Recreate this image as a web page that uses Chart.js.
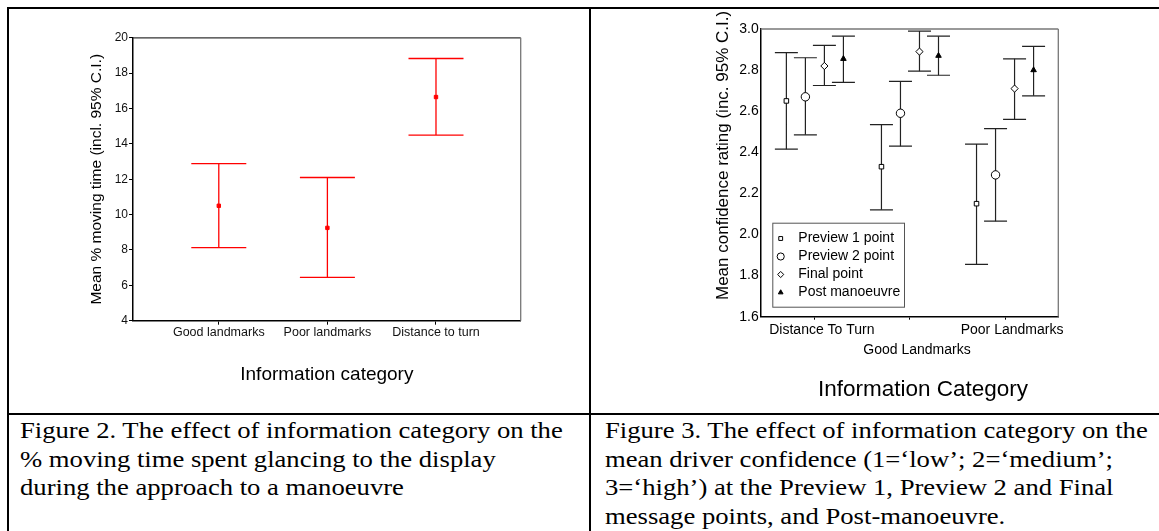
<!DOCTYPE html>
<html>
<head>
<meta charset="utf-8">
<script src="https://cdn.jsdelivr.net/npm/chart.js@4.4.1/dist/chart.umd.min.js"></script>
<style>
html, body { margin: 0; padding: 0; background: #fff; }
body { width: 1159px; height: 531px; position: relative; overflow: hidden; }
.rule { position: absolute; background: #000; }
.chartbox { position: absolute; }
.caption {
    position: absolute;
    font-family: "Liberation Serif", "Times New Roman", serif;
    font-size: 24px;
    line-height: 28.5px;
    color: #000;
    white-space: nowrap;
    transform: scaleX(1.11);
    transform-origin: 0 0;
}
</style>
</head>
<body>
<div class="rule" style="left:7px;top:7px;width:1152px;height:2px"></div>
<div class="rule" style="left:7px;top:7px;width:2px;height:524px"></div>
<div class="rule" style="left:589px;top:7px;width:2px;height:524px"></div>
<div class="rule" style="left:7px;top:413px;width:1152px;height:2px"></div>

<div class="chartbox" style="left:9px;top:9px;width:580px;height:404px"><canvas id="movingChart"></canvas></div>
<div class="chartbox" style="left:591px;top:9px;width:568px;height:404px"><canvas id="confidenceChart"></canvas></div>

<div class="caption" style="left:20px;top:416px">Figure 2. The effect of information category on the<br>% moving time spent glancing to the display<br>during the approach to a manoeuvre</div>
<div class="caption" style="left:605px;top:416px">Figure 3. The effect of information category on the<br>mean driver confidence (1=‘low’; 2=‘medium’;<br>3=‘high’) at the Preview 1, Preview 2 and Final<br>message points, and Post-manoeuvre.</div>

<script>
// ---- Figure 2 data ----
const moveCats = ["Good landmarks", "Poor landmarks", "Distance to turn"];
const movePos = [1, 2, 3];
const moveMean = [10.5, 9.25, 16.65];
const moveLow = [8.13, 6.45, 14.5];
const moveHigh = [12.88, 12.1, 18.83];
const moveTicks = [4, 6, 8, 10, 12, 14, 16, 18, 20];

// ---- Figure 3 data ----
const confGroups = ["Distance To Turn", "Good Landmarks", "Poor Landmarks"];
const confPos = [1, 2, 3];
const confTicks = [1.6, 1.8, 2.0, 2.2, 2.4, 2.6, 2.8, 3.0];
const seriesNames = ["Preview 1 point", "Preview 2 point", "Final point", "Post manoeuvre"];
const seriesShift = [-0.3, -0.1, 0.1, 0.3];
const prev1Mean = [2.65, 2.33, 2.15];
const prev1Low = [2.415, 2.12, 1.855];
const prev1High = [2.885, 2.535, 2.44];
const prev2Mean = [2.67, 2.59, 2.29];
const prev2Low = [2.485, 2.43, 2.065];
const prev2High = [2.86, 2.745, 2.515];
const finalMean = [2.82, 2.89, 2.71];
const finalLow = [2.725, 2.795, 2.56];
const finalHigh = [2.92, 2.99, 2.855];
const postMean = [2.855, 2.87, 2.80];
const postLow = [2.74, 2.775, 2.675];
const postHigh = [2.965, 2.965, 2.915];

const sansFont = "'Liberation Sans', Arial, Helvetica, sans-serif";
Chart.defaults.font.family = sansFont;
Chart.defaults.color = "#000";

// error bar helpers: whisker segments (gaps between) and cap points
function whiskerPoints(xs, lo, hi) {
    const pts = [];
    xs.forEach((x, i) => { pts.push({x: x, y: lo[i]}, {x: x, y: hi[i]}, {x: x, y: null}); });
    return pts;
}
function capPoints(xs, lo, hi) {
    const pts = [];
    xs.forEach((x, i) => { pts.push({x: x, y: lo[i]}, {x: x, y: hi[i]}); });
    return pts;
}

// top + right edges of the plot box
const plotFrame = {
    id: "plotFrame",
    beforeDatasetsDraw(chart, args, opts) {
        const ctx = chart.ctx, a = chart.chartArea;
        ctx.save();
        ctx.lineWidth = 1.3;
        ctx.strokeStyle = opts.top;
        ctx.beginPath(); ctx.moveTo(a.left, a.top); ctx.lineTo(a.right, a.top); ctx.stroke();
        ctx.strokeStyle = opts.right;
        ctx.beginPath(); ctx.moveTo(a.right, a.top); ctx.lineTo(a.right, a.bottom); ctx.stroke();
        ctx.restore();
    }
};

// ---- Figure 2: % moving time ----
new Chart(document.getElementById("movingChart"), {
    type: "scatter",
    data: {
        datasets: [
            {
                data: movePos.map((x, i) => ({x: x, y: moveMean[i]})),
                pointStyle: "rect",
                pointRadius: 2.4,
                backgroundColor: "#ff0000",
                borderColor: "#ff0000",
                borderWidth: 1
            },
            {
                data: capPoints(movePos, moveLow, moveHigh),
                pointStyle: "line",
                pointRadius: 27.5,
                borderColor: "#ff0000",
                borderWidth: 1.3
            },
            {
                type: "line",
                data: whiskerPoints(movePos, moveLow, moveHigh),
                borderColor: "#ff0000",
                borderWidth: 1.3,
                pointRadius: 0,
                fill: false
            }
        ]
    },
    options: {
        animation: false,
        responsive: true,
        maintainAspectRatio: false,
        events: [],
        layout: { padding: { left: 0, right: 68.3, top: 19.3, bottom: 0 } },
        plugins: {
            legend: { display: false },
            tooltip: { enabled: false },
            plotFrame: { top: "#333", right: "#777" }
        },
        scales: {
            x: {
                type: "linear",
                min: 0.21,
                max: 3.78,
                afterBuildTicks: s => { s.ticks = movePos.map(v => ({value: v})); },
                afterFit: s => { s.height = 92.3; },
                ticks: {
                    callback: (v, i) => moveCats[i],
                    autoSkip: false, maxRotation: 0, padding: 0,
                    font: { size: 12.5 }, color: "#111"
                },
                grid: { drawOnChartArea: false, drawTicks: true, tickLength: 4, color: "#000" },
                border: { color: "#000", width: 1.5 },
                title: {
                    display: true, text: "Information category",
                    font: { size: 19 }, color: "#000",
                    padding: { top: 0, bottom: 26.6 }
                }
            },
            y: {
                min: 4,
                max: 20,
                afterBuildTicks: s => { s.ticks = moveTicks.map(v => ({value: v})); },
                afterFit: s => { s.width = 124; },
                ticks: { padding: 1, font: { size: 12 }, color: "#111" },
                grid: { drawOnChartArea: false, drawTicks: true, tickLength: 4, color: "#000" },
                border: { color: "#000", width: 1.5 },
                title: {
                    display: true, text: "Mean % moving time (incl. 95% C.I.)",
                    font: { size: 15.5 }, color: "#000",
                    padding: { top: 78.4, bottom: 0 }
                }
            }
        }
    },
    plugins: [plotFrame]
});

// ---- Figure 3: confidence rating ----
const confSeries = [
    { mean: prev1Mean, low: prev1Low, high: prev1High, style: "rect", r: 3.2, fill: "#fff" },
    { mean: prev2Mean, low: prev2Low, high: prev2High, style: "circle", r: 4.2, fill: "#fff" },
    { mean: finalMean, low: finalLow, high: finalHigh, style: "rectRot", r: 3.6, fill: "#fff" },
    { mean: postMean, low: postLow, high: postHigh, style: "triangle", r: 3.2, fill: "#000" }
];

const confDatasets = [];
confSeries.forEach((s, k) => {
    confDatasets.push({
        label: seriesNames[k],
        data: confPos.map((x, i) => ({x: x + seriesShift[k], y: s.mean[i]})),
        pointStyle: s.style,
        pointRadius: s.r,
        backgroundColor: s.fill,
        borderColor: "#000",
        borderWidth: 1,
        inLegend: true
    });
});
confSeries.forEach((s, k) => {
    const xs = confPos.map(x => x + seriesShift[k]);
    confDatasets.push({
        data: capPoints(xs, s.low, s.high),
        pointStyle: "line",
        pointRadius: 11.5,
        borderColor: "#222",
        borderWidth: 1.2
    });
    confDatasets.push({
        type: "line",
        data: whiskerPoints(xs, s.low, s.high),
        borderColor: "#222",
        borderWidth: 1.2,
        pointRadius: 0,
        fill: false
    });
});

// framed legend sitting in the lower-left of the plot
const boxLegend = {
    id: "boxLegend",
    afterDraw(chart, args, o) {
        const ctx = chart.ctx, a = chart.chartArea;
        const left = a.left + o.dx, top = a.bottom - o.dy - o.h;
        ctx.save();
        ctx.fillStyle = "#fff";
        ctx.fillRect(left, top, o.w, o.h);
        ctx.strokeStyle = "#555";
        ctx.lineWidth = 1;
        ctx.strokeRect(left + 0.5, top + 0.5, o.w, o.h);
        ctx.font = o.size + "px " + sansFont;
        ctx.textBaseline = "middle";
        ctx.textAlign = "left";
        let row = 0;
        chart.data.datasets.forEach(ds => {
            if (!ds.inLegend) return;
            const y = top + o.first + row * o.step;
            ctx.fillStyle = ds.backgroundColor;
            ctx.strokeStyle = ds.borderColor;
            ctx.lineWidth = ds.borderWidth;
            Chart.helpers.drawPoint(ctx, {
                pointStyle: ds.pointStyle, radius: ds.pointRadius * 0.85,
                rotation: 0, borderWidth: ds.borderWidth
            }, left + o.mx, y);
            ctx.fillStyle = "#000";
            ctx.fillText(ds.label, left + o.tx, y);
            row++;
        });
        ctx.restore();
    }
};

// axis titles placed the way the source figure has them
const freeTitles = {
    id: "freeTitles",
    afterDraw(chart, args, o) {
        const ctx = chart.ctx, a = chart.chartArea;
        ctx.save();
        ctx.fillStyle = "#000";
        ctx.font = o.ySize + "px " + sansFont;
        ctx.translate(a.left - o.yDx, a.bottom - o.yDy);
        ctx.rotate(-Math.PI / 2);
        ctx.textAlign = "left";
        ctx.textBaseline = "middle";
        ctx.fillText(o.yText, 0, 0);
        ctx.restore();

        ctx.save();
        ctx.fillStyle = "#000";
        ctx.font = o.xSize + "px " + sansFont;
        ctx.textAlign = "center";
        ctx.textBaseline = "middle";
        ctx.fillText(o.xText, (a.left + a.right) / 2 + o.xDx, a.bottom + o.xDy);
        ctx.restore();
    }
};

new Chart(document.getElementById("confidenceChart"), {
    type: "scatter",
    data: { datasets: confDatasets },
    options: {
        animation: false,
        responsive: true,
        maintainAspectRatio: false,
        events: [],
        layout: { padding: { left: 0, right: 100.7, top: 20, bottom: 0 } },
        plugins: {
            legend: { display: false },
            tooltip: { enabled: false },
            plotFrame: { top: "#777", right: "#777" },
            boxLegend: { dx: 11.6, dy: 10, w: 131.7, h: 84, first: 15.8, step: 18, mx: 8.4, tx: 26, size: 14 },
            freeTitles: {
                yText: "Mean confidence rating (inc. 95% C.I.)", ySize: 17, yDx: 37.4, yDy: 16.7,
                xText: "Information Category", xSize: 22.5, xDx: 13.5, xDy: 73.3
            }
        },
        scales: {
            x: {
                type: "linear",
                min: 0.43,
                max: 3.56,
                afterBuildTicks: s => { s.ticks = confPos.map(v => ({value: v})); },
                afterFit: s => { s.height = 96.3; },
                ticks: {
                    callback: (v, i) => (i === 1 ? ["", confGroups[i]] : confGroups[i]),
                    autoSkip: false, maxRotation: 0, padding: 0, labelOffset: 7,
                    font: { size: 14, lineHeight: 1.43 }, color: "#000"
                },
                grid: { drawOnChartArea: false, drawTicks: true, tickLength: 3, color: "#000" },
                border: { color: "#000", width: 1.5 }
            },
            y: {
                min: 1.6,
                max: 3.0,
                afterBuildTicks: s => { s.ticks = confTicks.map(v => ({value: v})); },
                afterFit: s => { s.width = 169.7; },
                ticks: { padding: 2, font: { size: 14 }, color: "#000", callback: v => v.toFixed(1) },
                grid: { drawOnChartArea: false, drawTicks: false },
                border: { color: "#000", width: 1.5 }
            }
        }
    },
    plugins: [plotFrame, boxLegend, freeTitles]
});
</script>
</body>
</html>
